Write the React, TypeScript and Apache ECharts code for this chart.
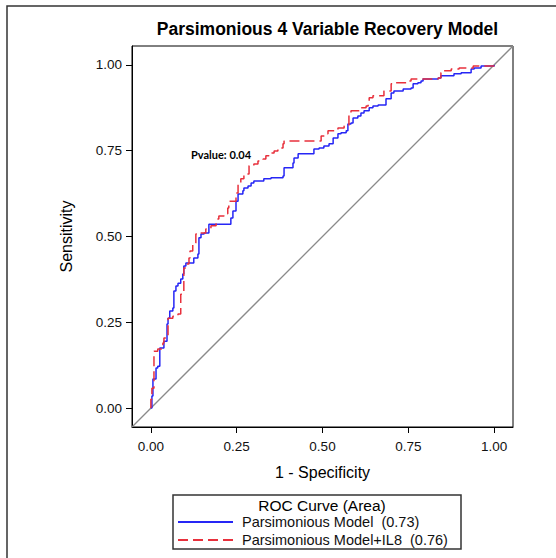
import React, { useEffect, useRef } from "react";
import * as echarts from "echarts";

const titleText = "Parsimonious 4 Variable Recovery Model";
const xAxisName = "1 - Specificity";
const yAxisName = "Sensitivity";
const tickValues = [0, 0.25, 0.5, 0.75, 1];
const axisMin = -0.055;
const axisMax = 1.055;
const legendTitle = "ROC Curve (Area)";
const seriesNames = ["Parsimonious Model  (0.73)", "Parsimonious Model+IL8  (0.76)"];
const pvalueText = "Pvalue: 0.04";

// [1 - specificity, sensitivity]
const baseModel: number[][] = [
  [0, 0], [0.003, 0.035], [0.006, 0.064], [0.006, 0.085], [0.015, 0.117], [0.02, 0.122],
  [0.026, 0.122], [0.026, 0.175], [0.038, 0.195], [0.047, 0.245], [0.05, 0.262], [0.055, 0.283],
  [0.064, 0.292], [0.067, 0.341], [0.073, 0.356], [0.079, 0.364], [0.087, 0.376], [0.093, 0.391],
  [0.096, 0.414], [0.102, 0.423], [0.125, 0.437], [0.137, 0.449], [0.14, 0.478], [0.14, 0.496],
  [0.146, 0.507], [0.155, 0.51], [0.169, 0.531], [0.169, 0.536], [0.195, 0.536], [0.233, 0.554],
  [0.239, 0.574], [0.248, 0.603], [0.254, 0.624], [0.268, 0.633], [0.271, 0.641], [0.283, 0.647],
  [0.292, 0.656], [0.3, 0.662], [0.321, 0.662], [0.329, 0.668], [0.35, 0.671], [0.37, 0.671],
  [0.385, 0.676], [0.388, 0.7], [0.402, 0.7], [0.414, 0.714], [0.417, 0.729], [0.429, 0.741],
  [0.446, 0.741], [0.475, 0.755], [0.49, 0.758], [0.504, 0.764], [0.519, 0.77], [0.531, 0.787],
  [0.545, 0.799], [0.554, 0.802], [0.569, 0.808], [0.574, 0.828], [0.583, 0.831], [0.589, 0.845],
  [0.603, 0.851], [0.612, 0.86], [0.621, 0.866], [0.636, 0.875], [0.647, 0.88], [0.662, 0.883],
  [0.679, 0.883], [0.685, 0.901], [0.7, 0.904], [0.7, 0.918], [0.708, 0.924], [0.735, 0.93],
  [0.743, 0.93], [0.758, 0.933], [0.764, 0.945], [0.778, 0.948], [0.787, 0.953], [0.793, 0.959],
  [0.816, 0.959], [0.837, 0.962], [0.845, 0.968], [0.875, 0.968], [0.883, 0.974], [0.904, 0.977],
  [0.927, 0.977], [0.933, 0.988], [0.942, 0.991], [0.962, 0.991], [0.962, 0.997], [1, 1],
];

const il8Model: number[][] = [
  [0, 0], [0, 0.026], [0.003, 0.058], [0.009, 0.102], [0.009, 0.166], [0.02, 0.172],
  [0.035, 0.19], [0.038, 0.204], [0.05, 0.248], [0.05, 0.262], [0.064, 0.268], [0.079, 0.274],
  [0.087, 0.292], [0.087, 0.332], [0.096, 0.408], [0.102, 0.42], [0.111, 0.437], [0.114, 0.458],
  [0.122, 0.481], [0.131, 0.507], [0.14, 0.507], [0.146, 0.51], [0.16, 0.522], [0.175, 0.531],
  [0.19, 0.536], [0.192, 0.551], [0.198, 0.56], [0.213, 0.566], [0.224, 0.583], [0.227, 0.603],
  [0.248, 0.627], [0.254, 0.653], [0.262, 0.668], [0.271, 0.682], [0.286, 0.706], [0.3, 0.711],
  [0.312, 0.72], [0.327, 0.726], [0.335, 0.735], [0.344, 0.743], [0.359, 0.749], [0.37, 0.758],
  [0.385, 0.77], [0.388, 0.778], [0.496, 0.778], [0.496, 0.793], [0.51, 0.799], [0.516, 0.808],
  [0.534, 0.808], [0.545, 0.816], [0.563, 0.822], [0.577, 0.857], [0.583, 0.866], [0.598, 0.866],
  [0.612, 0.875], [0.627, 0.88], [0.633, 0.895], [0.636, 0.904], [0.647, 0.91], [0.662, 0.91],
  [0.679, 0.924], [0.694, 0.924], [0.7, 0.945], [0.706, 0.948], [0.735, 0.948], [0.749, 0.953],
  [0.758, 0.959], [0.837, 0.962], [0.845, 0.977], [0.854, 0.983], [0.875, 0.988], [0.898, 0.991],
  [0.913, 0.991], [0.939, 0.997], [0.953, 0.997], [1, 1],
];

const referenceLine: number[][] = [
  [axisMin, axisMin],
  [axisMax, axisMax],
];

const FONT = "'Liberation Sans', Arial, Helvetica, sans-serif";

export default function App() {
  const ref = useRef<HTMLDivElement>(null);
  useEffect(() => {
    if (!ref.current) return;
    const chart = echarts.init(ref.current, null, { renderer: "svg" });
    const gridLeft = 132;
    const gridTop = 46;
    const gridW = 381;
    const gridH = 381;
    const axisCommon = {
      type: "value" as const,
      min: axisMin,
      max: axisMax,
      splitLine: { show: false },
      axisLine: { show: true, onZero: false, lineStyle: { color: "#000", width: 1 } },
      axisTick: {
        show: true,
        inside: false,
        length: 6,
        customValues: tickValues,
        lineStyle: { color: "#000", width: 1 },
      },
      axisLabel: {
        customValues: tickValues,
        formatter: (v: number) => v.toFixed(2),
        fontFamily: FONT,
        fontSize: 13.5,
        color: "#111",
      },
      nameLocation: "middle" as const,
      nameTextStyle: { fontFamily: FONT, fontSize: 16, color: "#000" },
    };
    chart.setOption({
      animation: false,
      backgroundColor: "#fff",
      title: {
        text: titleText,
        left: gridLeft + gridW / 2,
        textAlign: "center",
        top: 15,
        textStyle: { fontFamily: FONT, fontSize: 17.5, fontWeight: "bold", color: "#000" },
      },
      grid: {
        left: gridLeft,
        top: gridTop,
        width: gridW,
        height: gridH,
        show: true,
        borderColor: "#000",
        borderWidth: 1,
        backgroundColor: "#fff",
      },
      xAxis: {
        ...axisCommon,
        name: xAxisName,
        nameGap: 37,
        axisLabel: { ...axisCommon.axisLabel, margin: 12 },
      },
      yAxis: {
        ...axisCommon,
        name: yAxisName,
        nameGap: 58,
        axisLabel: { ...axisCommon.axisLabel, margin: 10 },
      },
      legend: {
        orient: "vertical",
        left: 177,
        top: 514,
        itemWidth: 55,
        itemHeight: 14,
        itemGap: 2,
        padding: 0,
        data: seriesNames,
        itemStyle: { opacity: 0 },
        textStyle: {
          fontFamily: FONT,
          fontSize: 14.5,
          lineHeight: 16,
          color: "#111",
          padding: [0, 0, 0, 4],
        },
        selectedMode: false,
      },
      graphic: [
        {
          type: "rect",
          shape: { x: 7, y: 6, width: 700, height: 700 },
          style: { fill: "none", stroke: "#333", lineWidth: 1.5 },
          silent: true,
        },
        {
          type: "rect",
          shape: { x: 173, y: 495, width: 288, height: 54 },
          style: { fill: "none", stroke: "#333", lineWidth: 1.5 },
          silent: true,
        },
        {
          type: "text",
          x: 322,
          y: 505,
          style: {
            text: legendTitle,
            fontFamily: FONT,
            fontSize: 15.5,
            fill: "#000",
            textAlign: "center",
            textVerticalAlign: "middle",
          },
        },
        {
          type: "text",
          x: 191,
          y: 154,
          style: {
            text: pvalueText,
            fontFamily: "Lato, 'Open Sans', sans-serif",
            fontSize: 11,
            fontWeight: "bold",
            fill: "#000",
            textAlign: "left",
            textVerticalAlign: "middle",
          },
        },
      ],
      series: [
        {
          name: "reference",
          type: "line",
          data: referenceLine,
          symbol: "none",
          silent: true,
          lineStyle: { color: "#8a8a8a", width: 1.3 },
          z: 1,
        },
        {
          name: seriesNames[0],
          type: "line",
          data: baseModel,
          step: "end",
          symbol: "none",
          itemStyle: { color: "#2626f5" },
          lineStyle: { color: "#2626f5", width: 1.5 },
          z: 3,
        },
        {
          name: seriesNames[1],
          type: "line",
          data: il8Model,
          step: "end",
          symbol: "none",
          itemStyle: { color: "#e8303c" },
          lineStyle: { color: "#e8303c", width: 1.5, type: [10, 5] },
          z: 4,
        },
      ],
    });
    return () => chart.dispose();
  }, []);
  return (
    <div
      ref={ref}
      style={{ position: "fixed", left: 0, top: 0, width: 556, height: 558, background: "#fff" }}
    />
  );
}
